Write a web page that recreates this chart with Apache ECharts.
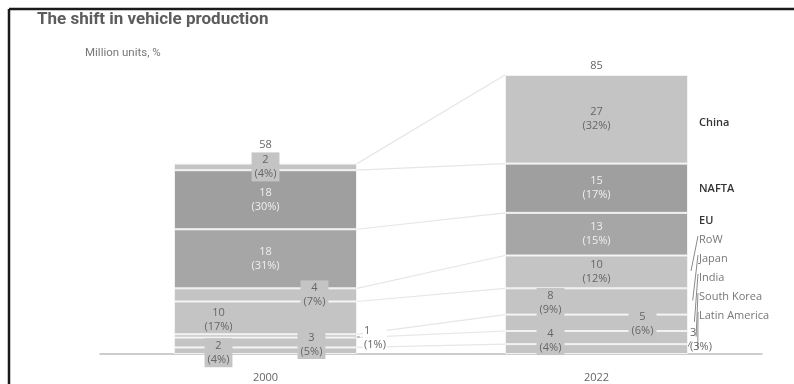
<!DOCTYPE html>
<html>
<head>
<meta charset="utf-8">
<script src="https://cdn.jsdelivr.net/npm/echarts@6/dist/echarts.min.js"></script>
<style>html,body{margin:0;padding:0;background:#fff}#c{width:794px;height:384px}</style>
</head>
<body>
<div id="c"></div>
<script>
// ---- data ----
const years = ['2000', '2022'];
const regions = ['Latin America', 'South Korea', 'India', 'Japan', 'RoW', 'EU', 'NAFTA', 'China'];
const v2000 = [2, 3, 1, 10, 4, 18, 18, 2];
const v2022 = [3, 4, 5, 8, 10, 13, 15, 27];
const p2000 = [4, 5, 1, 17, 7, 31, 30, 4];
const p2022 = [3, 4, 6, 9, 12, 15, 17, 32];

// ---- styles ----
const LIGHT = '#c4c4c4';
const colors = [LIGHT, LIGHT, LIGHT, LIGHT, LIGHT, '#a6a6a6', '#9f9f9f', LIGHT];
const darkSeg = [false, false, false, false, false, true, true, false];
const BAR_W = 183;
const FONT = 'Open Sans';
const totalGap = [19, 9];

// label placement per category / series (bottom to top)
const labelCfg = [
  [ // 2000
    {pos: 'inside', off: [-47, 2], bg: true},
    {pos: 'inside', off: [46, 2], bg: true},
    {pos: 'right', off: [0, 2], bg: 'white', dist: 6},
    {pos: 'inside', off: [-47, 2]},
    {pos: 'inside', off: [49, 0], bg: true},
    {pos: 'inside', off: [0, 0]},
    {pos: 'inside', off: [0, 0]},
    {pos: 'inside', off: [0, 0], bg: true}
  ],
  [ // 2022
    {pos: 'right', off: [0, -9], dist: 2},
    {pos: 'inside', off: [-46, 3], bg: true},
    {pos: 'inside', off: [46, 1], bg: true},
    {pos: 'inside', off: [-46, 1], bg: true},
    {pos: 'inside', off: [0, 0]},
    {pos: 'inside', off: [0, 0]},
    {pos: 'inside', off: [0, 0]},
    {pos: 'inside', off: [0, 0]}
  ]
];

function item(si, ci) {
  const v = ci === 0 ? v2000[si] : v2022[si];
  const p = ci === 0 ? p2000[si] : p2022[si];
  const c = labelCfg[ci][si];
  const lab = {
    show: true,
    position: c.pos,
    offset: c.off,
    distance: c.dist || 5,
    formatter: v + '\n(' + p + '%)',
    color: darkSeg[si] ? '#efefef' : '#666',
    fontSize: 11,
    lineHeight: 14,
    fontFamily: FONT,
    align: c.pos === 'right' ? 'left' : 'center'
  };
  if (c.bg === true) { lab.backgroundColor = colors[si]; lab.padding = [1, 3, 0, 3]; }
  if (c.bg === 'white') { lab.backgroundColor = '#fff'; lab.padding = [0, 1]; }
  return {value: v, label: lab};
}

const barSeries = regions.map((name, si) => ({
  type: 'bar',
  name: name,
  stack: 'total',
  barWidth: BAR_W,
  z: 3,
  itemStyle: {color: colors[si], borderColor: '#f2f2f2', borderWidth: 1},
  data: [item(si, 0), item(si, 1)]
}));

const total2000 = v2000.reduce((a, b) => a + b, 0);
const total2022 = v2022.reduce((a, b) => a + b, 0);

function renderDecor(params, api) {
  const ch = [];
  const half = BAR_W / 2;
  const xL = api.coord([0, 0])[0] + half;
  const xR0 = api.coord([1, 0])[0] - half;
  const xR1 = api.coord([1, 0])[0] + half;
  let c0 = 0, c1 = 0;
  const centers1 = [], centers0 = [];
  for (let i = 0; i < regions.length; i++) {
    centers0.push(api.coord([0, c0 + v2000[i] / 2])[1]);
    centers1.push(api.coord([1, c1 + v2022[i] / 2])[1]);
    c0 += v2000[i]; c1 += v2022[i];
    ch.push({type: 'line', shape: {x1: xL, y1: api.coord([0, c0])[1], x2: xR0, y2: api.coord([1, c1])[1]},
      style: {stroke: '#e6e6e6', lineWidth: 1.2}});
  }
  // totals
  [[0, total2000], [1, total2022]].forEach(([ci, t]) => {
    const p = api.coord([ci, t]);
    ch.push({type: 'text', style: {text: String(t), x: p[0], y: p[1] - totalGap[ci], align: 'center', verticalAlign: 'middle',
      fill: '#666', font: '11px "' + FONT + '"'}});
  });
  // India 2000 dash
  ch.push({type: 'line', shape: {x1: xL - 3, y1: centers0[2] + 1, x2: xL + 3, y2: centers0[2] + 1}, style: {stroke: '#999', lineWidth: 1}});
  // Latin America 2022 leader
  ch.push({type: 'line', shape: {x1: xR1 - 3, y1: centers1[0] + 3, x2: xR1 + 3, y2: centers1[0] - 8}, style: {stroke: '#888', lineWidth: 1}});
  // region names at right
  const base = api.coord([1, 0])[1];
  const tx = xR1 + 11;
  for (let i = 0; i < regions.length; i++) {
    let y;
    if (i === 7) y = centers1[7] + 4;
    else if (i === 6) y = centers1[6] + 1;
    else y = base - 38 - i * 19;
    const strong = i >= 5;
    ch.push({type: 'text', style: {text: regions[i], x: tx, y: y, align: 'left', verticalAlign: 'middle',
      fill: strong ? '#333' : '#777', font: (strong ? '600 ' : '') + '11px "' + FONT + '"'}});
    if (i <= 4) {
      ch.push({type: 'line', shape: {x1: xR1 + 3 + (4 - i) * 1.7, y1: centers1[i] - 1, x2: tx - 1, y2: y - 4},
        style: {stroke: '#8a8a8a', lineWidth: 1}});
    }
  }
  return {type: 'group', children: ch};
}

const chart = echarts.init(document.getElementById('c'), null, {renderer: 'canvas'});
chart.setOption({
  animation: false,
  title: [
    {text: 'The shift in vehicle production', left: 37, top: 11, padding: 0,
      textStyle: {fontFamily: 'Roboto', fontWeight: 'bold', fontSize: 17, color: '#5c5c5c'}},
    {text: 'Million units, %', left: 85, top: 47, padding: 0,
      textStyle: {fontFamily: 'Roboto', fontWeight: 'normal', fontSize: 11.5, color: '#777'}}
  ],
  grid: {left: 100, right: 32, top: 75, bottom: 30},
  xAxis: {
    type: 'category', data: years,
    axisLine: {lineStyle: {color: '#bdbdbd', width: 1.5}},
    axisTick: {show: false},
    axisLabel: {color: '#666', fontSize: 11, margin: 18, fontFamily: FONT}
  },
  yAxis: {type: 'value', min: 0, max: 85, show: false, splitLine: {show: false}},
  series: barSeries.concat([{
    type: 'custom', z: 1, silent: true,
    renderItem: renderDecor,
    data: [[0, 0]]
  }]),
  graphic: [
    {type: 'line', shape: {x1: 9, y1: 9, x2: 794, y2: 9}, style: {stroke: '#1a1a1a', lineWidth: 2.5}},
    {type: 'line', shape: {x1: 9, y1: 9, x2: 9, y2: 384}, style: {stroke: '#1a1a1a', lineWidth: 2.5}}
  ]
});
</script>
</body>
</html>
